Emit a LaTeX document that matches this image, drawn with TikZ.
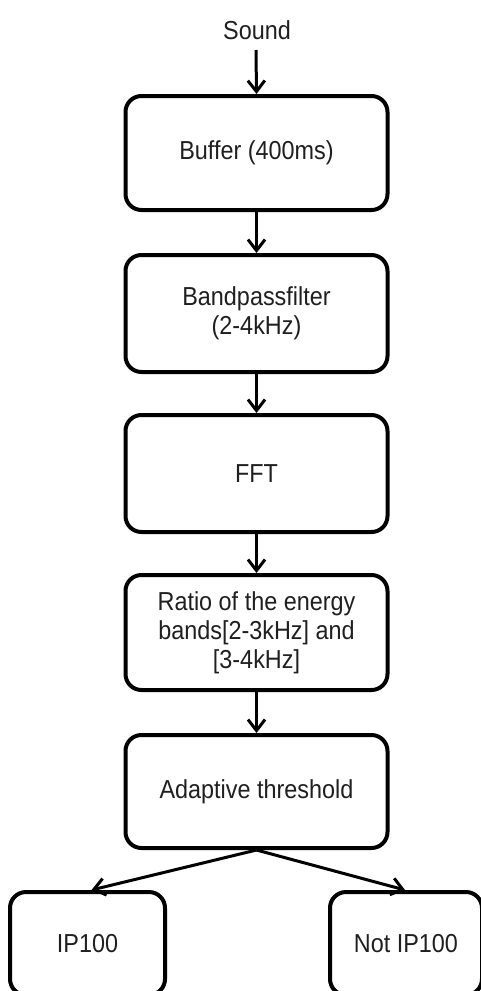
\documentclass[tikz,border=0pt]{standalone}
\usepackage{fontspec}
\setmainfont{Liberation Sans}[FakeStretch=0.9]
\usetikzlibrary{arrows.meta}
\begin{document}
\begin{tikzpicture}[x=1pt,y=-1pt,
  box/.style={draw, line width=4pt, rounded corners=16pt, align=center,
    inner sep=0pt, text=black!88, font=\fontsize{26}{29}\selectfont},
  flow/.style={line width=3pt, -{Straight Barb[length=11pt,width=17pt,line width=3pt]}},
  lbl/.style={font=\fontsize{26}{29}\selectfont, text=black!88, inner sep=0pt}]
\useasboundingbox (0,0) rectangle (481,991);
\clip (0,0) rectangle (481,991);
\node[lbl] (snd) at (257,30) {Sound};
\coordinate (sndout) at (256,50);
\node[box, minimum width=262pt, minimum height=114pt] (buf) at (256.5,153) {Buffer (400ms)};
\node[box, minimum width=262pt, minimum height=117pt] (bp) at (256.5,313.5) {Bandpassfilter\\(2-4kHz)};
\node[box, minimum width=262pt, minimum height=117pt] (fft) at (256.5,473.5) {FFT};
\node[box, minimum width=262pt, minimum height=115pt] (ratio) at (256.5,632.5) {Ratio of the energy\\bands[2-3kHz] and\\{}[3-4kHz]};
\node[box, minimum width=262pt, minimum height=113pt] (thr) at (256.5,791.5) {Adaptive threshold};
\node[box, minimum width=155pt, minimum height=103pt] (ip) at (87.5,943.5) {IP100};
\node[box, minimum width=152pt, minimum height=103pt] (nip) at (406,943.5) {Not IP100};
\draw[flow] (sndout) -- (buf.north);
\draw[flow] (buf) -- (bp);
\draw[flow] (bp) -- (fft);
\draw[flow] (fft) -- (ratio);
\draw[flow] (ratio) -- (thr);
\draw[flow] (thr.south) -- ([xshift=4pt]ip.north);
\draw[flow] (thr.south) -- ([xshift=-1pt]nip.north);
\end{tikzpicture}
\end{document}
